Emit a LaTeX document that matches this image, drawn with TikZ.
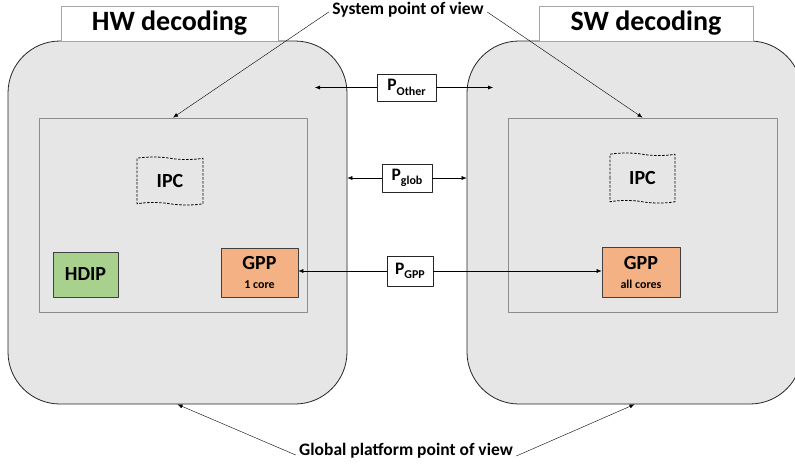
\documentclass[tikz,border=0pt]{standalone}
\usepackage{fontspec}
\setmainfont{Carlito}
\usetikzlibrary{arrows.meta}
\usetikzlibrary{shapes.symbols}

\definecolor{platgray}{HTML}{E6E6E6}
\definecolor{hdipgreen}{HTML}{A9D18E}
\definecolor{gpporange}{HTML}{F4B183}
\newcommand{\psub}[1]{P\raisebox{-4.5pt}{\fontsize{12}{12}\selectfont #1}}

\begin{document}
\begin{tikzpicture}[x=1pt,y=-1pt,>={Latex[length=5pt,width=4pt]},line join=bevel,
  platform/.style={draw=black!85,fill=platgray,rounded corners=52pt,line width=0.8pt},
  titlebox/.style={draw=black!35,fill=white,line width=0.8pt,font=\fontsize{28}{30}\selectfont\bfseries},
  core/.style={draw=black!45,line width=0.8pt},
  ipc/.style={tape,draw=black,line width=0.8pt,dash pattern=on 2.5pt off 1.5pt,tape bend top=out and in,
    tape bend bottom=out and in,tape bend height=2.5pt,font=\fontsize{20}{22}\selectfont\bfseries},
  unit/.style={draw=black!75,line width=0.8pt,align=center,font=\fontsize{20}{22}\selectfont\bfseries},
  pbox/.style={draw=black!85,fill=white,line width=0.8pt,font=\fontsize{17.5}{19}\selectfont\bfseries},
  view/.style={font=\fontsize{17.5}{19}\selectfont\bfseries},
]
\path[use as bounding box,fill=white] (0,0) rectangle (795,469);
%%
\node (hwbox) at (177.5,222.5) [platform,minimum width=339pt,minimum height=363pt] {};
  \node (swbox) at (634.5,222.5) [platform,minimum width=335pt,minimum height=363pt] {};
  \node (hwtitle) at (169.5,23.5) [titlebox,minimum width=217pt,minimum height=35pt] {HW decoding};
  \node (swtitle) at (646,23.5) [titlebox,minimum width=214pt,minimum height=35pt] {SW decoding};
  \node (hwcore) at (173,215) [core,minimum width=268pt,minimum height=194pt] {};
  \node (swcore) at (642.5,215) [core,minimum width=269pt,minimum height=194pt] {};
  \node (ipchw) at (170,181) [ipc,minimum width=66pt,minimum height=48pt] {IPC};
  \node (ipcsw) at (642.5,178) [ipc,minimum width=65pt,minimum height=50pt] {IPC};
  \node (hdip) at (85.5,274.5) [unit,fill=hdipgreen,minimum width=65pt,minimum height=45pt] {HDIP};
  \node (gpphw) at (259.5,272.5) [unit,fill=gpporange,minimum width=77pt,minimum height=49pt] {GPP\\[-3pt]{\fontsize{12}{12}\selectfont 1 core}};
  \node (gppsw) at (641,272) [unit,fill=gpporange,minimum width=78pt,minimum height=50pt] {GPP\\[-3pt]{\fontsize{12}{12}\selectfont all cores}};
  \node (pother) at (406.5,87.5) [pbox,minimum width=59pt,minimum height=27pt] {\psub{Other}};
  \node (pglob) at (407,178) [pbox,minimum width=50pt,minimum height=28pt] {\psub{glob}};
  \node (pgpp) at (410,271) [pbox,minimum width=46pt,minimum height=30pt] {\psub{GPP}};
  \node (sysview) at (408,10) [view] {System point of view};
  \node (globview) at (406,451) [view] {Global platform point of view};
  \coordinate (otherhw) at (315,87.5);
  \coordinate (othersw) at (493,87.5);
  \draw [black,->] (pother) -- (otherhw);
  \draw [black,->] (pother) -- (othersw);
  \draw [black,->] (pglob.west) -- (pglob.west -| hwbox.east);
  \draw [black,->] (pglob.east) -- (pglob.east -| swbox.west);
  \draw [black,->] (pgpp.west) -- (pgpp.west -| gpphw.east);
  \draw [black,->] (pgpp.east) -- (pgpp.east -| gppsw.west);
  \draw [black,->] ([yshift=-2pt]sysview.west) -- (hwcore.north);
  \draw [black,->] ([yshift=-2pt]sysview.east) -- (swcore.north);
  \draw [black,->] ([yshift=-4pt]globview.west) -- (hwbox.south);
  \draw [black,->] ([yshift=-5pt]globview.east) -- (swbox.south);
%
\end{tikzpicture}
\end{document}
